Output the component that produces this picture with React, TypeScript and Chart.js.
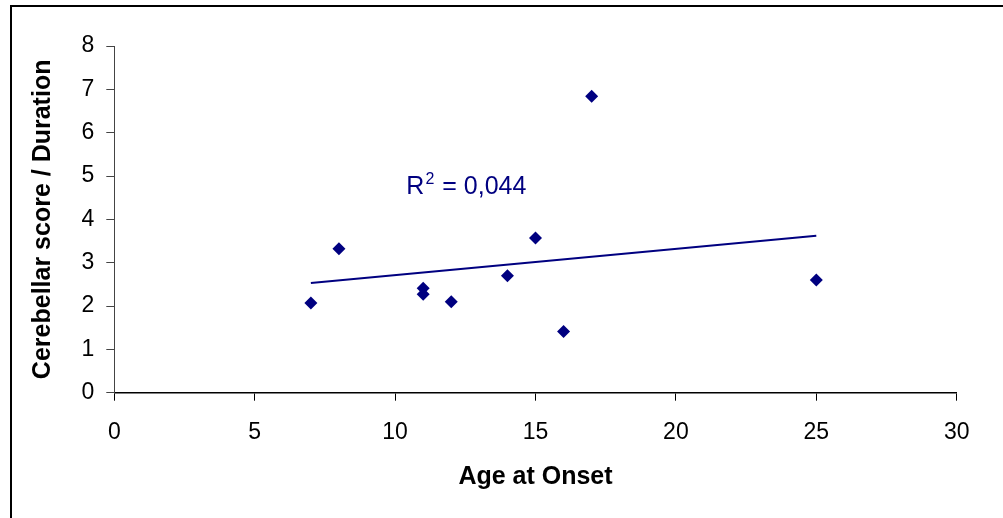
import React, { useEffect, useRef } from 'react'
import { Chart, registerables } from 'chart.js'

Chart.register(...registerables)

// Age at onset vs cerebellar score / duration
const onsetAge = [7, 8, 11, 11, 12, 14, 15, 16, 17, 25]
const cerebellarRatio = [2.07, 3.32, 2.41, 2.27, 2.1, 2.7, 3.57, 1.41, 6.84, 2.6]

// linear trendline ends
const trendAge = [7, 25]
const trendValue = [2.53, 3.62]

const xTickValues = [0, 5, 10, 15, 20, 25, 30]
const yTickValues = [0, 1, 2, 3, 4, 5, 6, 7, 8]

const r2Text = '0,044'

const NAVY = '#000080'
const FONT = '"Liberation Sans", Arial, sans-serif'

// where the R² label sits, in data units
const labelAt = { x: 10.4, y: 4.59 }

const r2Plugin = {
  id: 'r2Label',
  afterDatasetsDraw(chart: any) {
    const { ctx, scales } = chart
    const px = scales.x.getPixelForValue(labelAt.x)
    const py = scales.y.getPixelForValue(labelAt.y)
    ctx.save()
    ctx.fillStyle = NAVY
    ctx.textBaseline = 'alphabetic'
    ctx.textAlign = 'left'
    ctx.font = `25px ${FONT}`
    ctx.fillText('R', px, py)
    let w = ctx.measureText('R').width
    ctx.font = `16px ${FONT}`
    ctx.fillText('2', px + w + 1, py - 10)
    w += ctx.measureText('2').width + 2
    ctx.font = `25px ${FONT}`
    ctx.fillText(` = ${r2Text}`, px + w, py)
    ctx.restore()
  },
}

export default function App() {
  const canvasRef = useRef<HTMLCanvasElement>(null)
  const chartRef = useRef<Chart | null>(null)

  useEffect(() => {
    if (!canvasRef.current) return
    if (chartRef.current) { chartRef.current.destroy(); chartRef.current = null }

    chartRef.current = new Chart(canvasRef.current, {
      type: 'scatter',
      data: {
        datasets: [
          {
            label: 'Cerebellar score / Duration',
            data: onsetAge.map((x, i) => ({ x, y: cerebellarRatio[i] })),
            pointStyle: 'rectRot',
            pointRadius: 6.5,
            pointBackgroundColor: NAVY,
            pointBorderColor: NAVY,
            pointBorderWidth: 0,
            showLine: false,
          },
          {
            type: 'line',
            label: 'Trend',
            data: trendAge.map((x, i) => ({ x, y: trendValue[i] })),
            borderColor: NAVY,
            borderWidth: 2,
            pointRadius: 0,
            fill: false,
          } as any,
        ],
      },
      options: {
        animation: false,
        responsive: false,
        devicePixelRatio: 1,
        layout: { padding: { left: 0, top: 46, right: 46.3, bottom: 0 } },
        plugins: { legend: { display: false }, tooltip: { enabled: false } },
        scales: {
          x: {
            type: 'linear',
            min: 0,
            max: 30,
            afterBuildTicks: (s: any) => { s.ticks = xTickValues.map(v => ({ value: v })) },
            afterFit: (s: any) => { s.height = 125.3 },
            border: { color: '#000', width: 1.5 },
            grid: { drawOnChartArea: false, color: '#000', tickLength: 8, lineWidth: 1 },
            ticks: { color: '#000', padding: 18, font: { family: FONT, size: 23 } },
            title: {
              display: true,
              text: 'Age at Onset',
              color: '#000',
              padding: { top: 0, bottom: 26 },
              font: { family: FONT, size: 25, weight: 'bold' },
            },
          },
          y: {
            type: 'linear',
            min: 0,
            max: 8,
            afterBuildTicks: (s: any) => { s.ticks = yTickValues.map(v => ({ value: v })) },
            afterFit: (s: any) => { s.width = 114.3 },
            border: { color: '#444', width: 1 },
            grid: { drawOnChartArea: false, color: '#444', tickLength: 8, lineWidth: 1 },
            ticks: { color: '#000', padding: 12, font: { family: FONT, size: 23 } },
            title: {
              display: true,
              text: 'Cerebellar score / Duration',
              color: '#000',
              padding: { top: 28, bottom: 0 },
              font: { family: FONT, size: 25, weight: 'bold' },
            },
          },
        },
      },
      plugins: [r2Plugin],
    })

    return () => {
      if (chartRef.current) { chartRef.current.destroy(); chartRef.current = null }
    }
  }, [])

  return (
    <div style={{ position: 'absolute', left: 0, top: 0, width: 1003, height: 518, overflow: 'hidden', background: '#fff' }}>
      <canvas ref={canvasRef} width={1003} height={518} style={{ position: 'absolute', left: 0, top: 0, width: 1003, height: 518 }} />
      <div style={{ position: 'absolute', left: 10, top: 5, width: 1100, height: 600, borderLeft: '2px solid #000', borderTop: '2px solid #000', pointerEvents: 'none' }} />
    </div>
  )
}
